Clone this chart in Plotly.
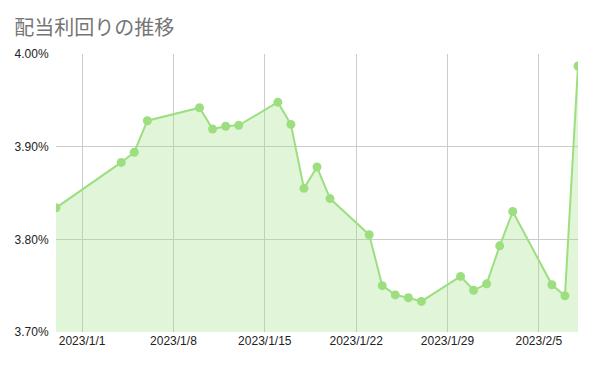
import plotly.graph_objects as go

dates = ["2022-12-30", "2023-01-04", "2023-01-05", "2023-01-06", "2023-01-10",
         "2023-01-11", "2023-01-12", "2023-01-13", "2023-01-16", "2023-01-17",
         "2023-01-18", "2023-01-19", "2023-01-20", "2023-01-23", "2023-01-24",
         "2023-01-25", "2023-01-26", "2023-01-27", "2023-01-30", "2023-01-31",
         "2023-02-01", "2023-02-02", "2023-02-03", "2023-02-06", "2023-02-07",
         "2023-02-08"]
yields = [3.834, 3.883, 3.894, 3.928, 3.942,
          3.919, 3.922, 3.923, 3.948, 3.924,
          3.855, 3.878, 3.844, 3.805, 3.750,
          3.740, 3.737, 3.733, 3.760, 3.745,
          3.752, 3.793, 3.830, 3.751, 3.739,
          3.987]

x_tick_vals = ["2023-01-01", "2023-01-08", "2023-01-15", "2023-01-22", "2023-01-29", "2023-02-05"]
x_tick_text = ["2023/1/1", "2023/1/8", "2023/1/15", "2023/1/22", "2023/1/29", "2023/2/5"]
y_tick_vals = [3.70, 3.80, 3.90, 4.00]
y_tick_text = ["3.70%", "3.80%", "3.90%", "4.00%"]

title = "配当利回りの推移"

line_color = "#9ddf80"

fig = go.Figure()
fig.add_trace(go.Scatter(
    x=dates, y=yields, mode="lines+markers",
    line=dict(color=line_color, width=2),
    marker=dict(color=line_color, size=9),
    fill="tozeroy", fillcolor="rgba(157,223,128,0.3)",
    cliponaxis=True, hoverinfo="x+y",
))

fig.update_layout(
    width=595, height=367,
    margin=dict(l=56, r=17, t=54, b=35),
    paper_bgcolor="white", plot_bgcolor="white",
    showlegend=False,
    title=dict(text=title, x=0.024, xanchor="left", y=0.925, yanchor="middle",
               font=dict(family="Noto Sans CJK JP", size=20, color="#757575")),
    font=dict(family="Liberation Sans, Arial", size=12, color="#222222"),
)
fig.update_xaxes(
    range=["2022-12-30", "2023-02-08"],
    tickvals=x_tick_vals, ticktext=x_tick_text,
    showgrid=True, gridcolor="#cccccc", gridwidth=1,
    zeroline=False, showline=False,
    ticks="", tickfont=dict(size=12, color="#222222"),
)
fig.update_yaxes(
    range=[3.70, 4.00],
    tickvals=y_tick_vals, ticktext=y_tick_text,
    showgrid=True, gridcolor="#cccccc", gridwidth=1,
    zeroline=False, showline=False,
    ticks="outside", ticklen=4, tickcolor="rgba(0,0,0,0)",
    tickfont=dict(size=12, color="#222222"),
)

fig.write_html("out.html")
